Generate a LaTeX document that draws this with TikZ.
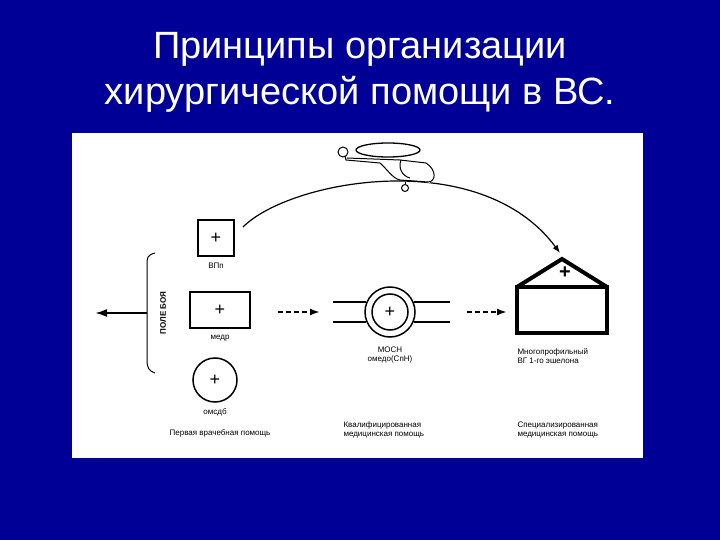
\documentclass[tikz,border=0pt]{standalone}
\usepackage{fontspec}
\setmainfont{Liberation Sans}
\usetikzlibrary{arrows.meta}
\definecolor{bg}{RGB}{0,0,150}
\begin{document}
\begin{tikzpicture}[x=1pt,y=-1pt,
  lbl/.style={font=\fontsize{8}{9.5}\selectfont},
  plus/.style={font=\fontsize{18}{18}\selectfont},
  dasharrow/.style={line width=2pt,dash pattern=on 5pt off 3pt,-{Latex[length=10pt,width=7pt]}}]
\fill[bg] (0,0) rectangle (720,540);
\useasboundingbox (0,0) rectangle (720,540);
\fill[white] (72,133) rectangle (643,458);
\node[text=white,font=\fontsize{38}{46}\selectfont,align=center] (title) at (360,72) {Принципы организации\\хирургической помощи в ВС.};
% ВПп
\node[draw,line width=1.5pt,minimum size=36pt,plus] (vpp) at (216,238) {+};
\node[lbl] (vppl) at (216,266) {ВПп};
% медр
\node[draw,line width=1.5pt,minimum width=60pt,minimum height=36pt,plus] (medr) at (220,310) {+};
\node[lbl] (medrl) at (220,338) {медр};
% омсдб
\node[draw,circle,line width=1.5pt,minimum size=44pt,plus] (omsdb) at (215,380) {+};
\node[lbl] (omsdbl) at (215,412) {омсдб};
\node[lbl] (l1) at (220,433) {Первая врачебная помощь};
% bracket
\draw[line width=1pt] (155,253) .. controls (147,255) and (147,258) .. (147,265) -- (147,360) .. controls (147,368) and (149,371) .. (155,373);
\coordinate (bm) at (147,313);
\coordinate (bl) at (95,313);
\draw[line width=2pt,-{Latex[length=12pt,width=8pt]}] (bm) -- (bl);
\node[rotate=90,font=\fontsize{8}{9}\selectfont\bfseries] (pole) at (163,313) {ПОЛЕ БОЯ};
% МОСН
\node[draw,circle,line width=1.5pt,minimum size=50pt] (mosh) at (390,312) {};
\node[draw,circle,line width=1.5pt,minimum size=36pt,plus] (moshi) at (390,312) {+};
\draw[line width=1.5pt] (333,302) -- (366,302) (333,322) -- (366,322) (414,302) -- (450,302) (414,322) -- (450,322);
\node[lbl,align=center] (moshl) at (390,355) {МОСН\\омедо(СпН)};
\coordinate (d1a) at (278,312); \coordinate (d1b) at (320,312);
\draw[dasharrow] (d1a) -- (d1b);
\coordinate (d2a) at (467,312); \coordinate (d2b) at (507,312);
\draw[dasharrow] (d2a) -- (d2b);
% hospital
\draw[line width=4pt] (517,287) rectangle (607,333);
\draw[line width=4pt,line join=miter] (517,287) -- (562,259) -- (607,287);
\node[font=\fontsize{20}{20}\selectfont\bfseries] (hp) at (565,273) {+};
\coordinate (hosptop) at (560,253);
\node[lbl,align=left,anchor=north west] (hl) at (514,345) {Многопрофильный\\ВГ 1-го эшелона};
\node[lbl,align=left,anchor=north west] (k) at (340,418) {Квалифицированная\\медицинская помощь};
\node[lbl,align=left,anchor=north west] (s) at (514,418) {Специализированная\\медицинская помощь};
% route
\coordinate (cs) at (243,227);
\draw[line width=1.2pt,-{Latex[length=8pt,width=6pt]}] (cs) .. controls (290,180) and (480,145) .. (hosptop);
% helicopter
\fill[white] (380,160) -- (395,175) -- (430,183) -- (437,172) -- (425,160) -- cycle;
\draw[line width=1.3pt] (388,150) ellipse (32 and 7);
\draw[line width=1pt] (343,152) circle (5);
\draw[line width=1pt] (345,156) -- (346,160) -- (380,163) .. controls (388,170) and (392,178) .. (400,180) -- (428,182) .. controls (436,182) and (437,170) .. (426,163) -- (400,160) -- (347,158);
\draw[line width=1pt] (401,160) .. controls (398,168) and (402,176) .. (410,178);
\draw[line width=1pt] (405,182) -- (405,184);
\draw[line width=1pt] (405,188) circle (3.5);
\end{tikzpicture}
\end{document}
